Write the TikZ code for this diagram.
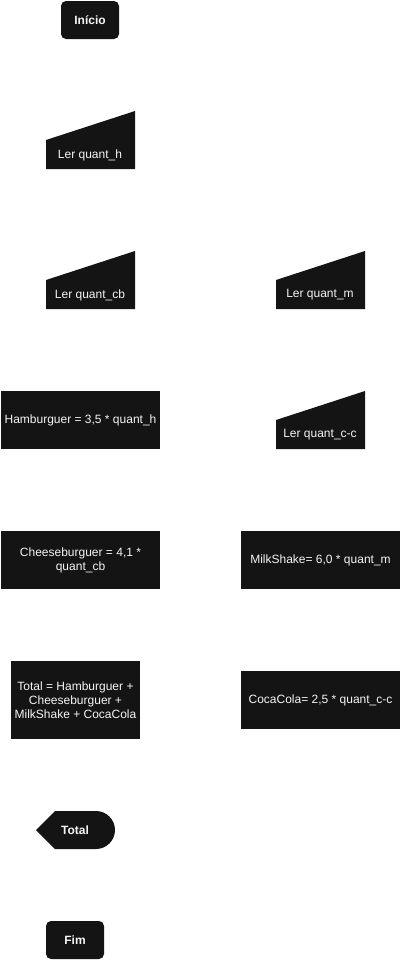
\documentclass[tikz,border=0pt]{standalone}
\usepackage{fontspec}
\setmainfont{Liberation Sans}
\definecolor{boxfill}{HTML}{141414}
\definecolor{boxtext}{HTML}{F5F5F5}
\begin{document}
\begin{tikzpicture}[x=1pt,y=-1pt,
  shp/.style={fill=boxfill,draw=none},
  lbl/.style={text=boxtext,font=\fontsize{12}{14}\selectfont,align=center,inner sep=0pt},
  blbl/.style={lbl,font=\fontsize{12}{14}\selectfont\bfseries}]
\useasboundingbox (0,0) rectangle (401,961);
% Inicio
\fill[boxfill,rounded corners=5pt] (61,1) rectangle (119,39);
\node[blbl] (inicio) at (90,20) {Início};
% manual inputs
\fill[boxfill] (46,140) -- (135,111) -- (135,169) -- (46,169) -- cycle;
\node[lbl] (lh) at (90,155) {Ler quant\_h};
\fill[boxfill] (46,280) -- (135,251) -- (135,309) -- (46,309) -- cycle;
\node[lbl] (lcb) at (90,295) {Ler quant\_cb};
\fill[boxfill] (276,280) -- (365,251) -- (365,309) -- (276,309) -- cycle;
\node[lbl] (lm) at (320,295) {Ler quant\_m};
\fill[boxfill] (276,420) -- (365,391) -- (365,449) -- (276,449) -- cycle;
\node[lbl] (lcc) at (320,435) {Ler quant\_c-c};
% processes
\fill[boxfill] (1,391) rectangle (160,449);
\node[lbl] (ham) at (80.5,420) {Hamburguer = 3,5 * quant\_h};
\fill[boxfill] (1,531) rectangle (160,589);
\node[lbl] (che) at (80.5,560) {Cheeseburguer = 4,1 *\\quant\_cb};
\fill[boxfill] (241,531) rectangle (400,589);
\node[lbl] (mil) at (320.5,560) {MilkShake= 6,0 * quant\_m};
\fill[boxfill] (11,661) rectangle (140,739);
\node[lbl] (tot) at (75.5,700) {Total = Hamburguer +\\Cheeseburguer +\\MilkShake + CocaCola};
\fill[boxfill] (241,671) rectangle (400,729);
\node[lbl] (coc) at (320.5,700) {CocaCola= 2,5 * quant\_c-c};
% display
\fill[boxfill] (36,830) -- (55,811) -- (96,811) arc[start angle=-90,end angle=90,radius=19] -- (55,849) -- cycle;
\node[blbl] (disp) at (75,830) {Total};
% Fim
\fill[boxfill,rounded corners=5pt] (46,921) rectangle (104,959);
\node[blbl] (fim) at (75,940) {Fim};
\end{tikzpicture}
\end{document}
